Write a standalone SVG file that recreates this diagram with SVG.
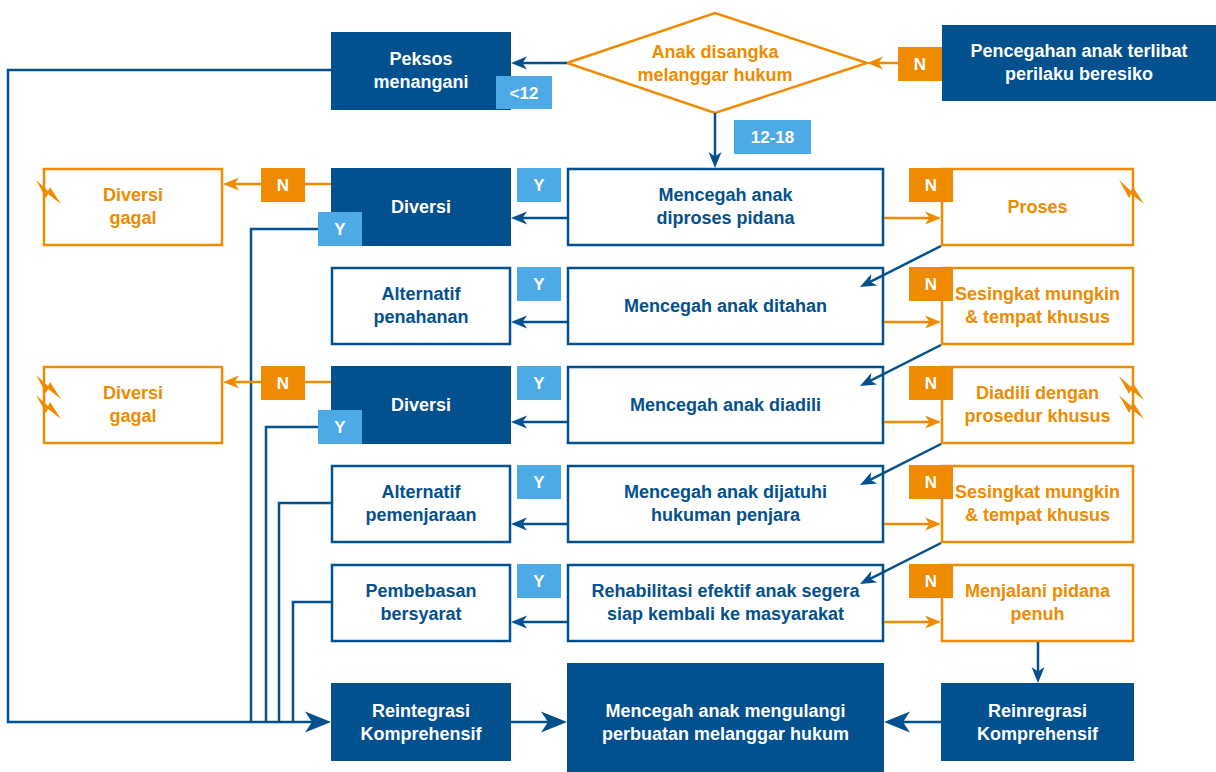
<svg xmlns="http://www.w3.org/2000/svg" xmlns:xlink="http://www.w3.org/1999/xlink" width="1216" height="772" viewBox="0 0 1216 772">
<style>
.t{font-family:"Liberation Sans",Arial,Helvetica,sans-serif;font-size:18px;font-weight:bold;text-anchor:middle}
.bt{font-family:"Liberation Sans",Arial,Helvetica,sans-serif;font-size:17px;font-weight:bold;text-anchor:middle;fill:#fff}
.w{fill:#fff}.b{fill:#03508e}.o{fill:#ee8b00}
.fb{fill:#03508e}
.ob{fill:#fff;stroke:#03508e;stroke-width:2.5}
.oo{fill:#fff;stroke:#ee8b00;stroke-width:2.5}
.by{fill:#4eaae6}.bn{fill:#ee8b00}
.cb{fill:none;stroke:#03508e;stroke-width:2.5}
.co{fill:none;stroke:#ee8b00;stroke-width:2.5}
.bolt{fill:#ee8b00}
</style>
<defs>
<marker id="ab" viewBox="-9 -8 18 16" refX="0" refY="0" markerWidth="18" markerHeight="16" markerUnits="userSpaceOnUse" orient="auto"><path d="M8,0 L-8,-6.5 L-3.5,0 L-8,6.5 Z" fill="#03508e"/></marker>
<marker id="ao" viewBox="-9 -8 18 16" refX="0" refY="0" markerWidth="18" markerHeight="16" markerUnits="userSpaceOnUse" orient="auto"><path d="M8,0 L-8,-6.5 L-3.5,0 L-8,6.5 Z" fill="#ee8b00"/></marker>
<marker id="abig" viewBox="-14 -12 28 24" refX="0" refY="0" markerWidth="28" markerHeight="24" markerUnits="userSpaceOnUse" orient="auto"><path d="M13,0 L-13,-10.5 L-6,0 L-13,10.5 Z" fill="#03508e"/></marker>
<path id="bolt" d="M0,0 L12,11 L14,7 L25,24 L12,14 L10,18 Z"/>
</defs>

<rect width="1216" height="772" fill="#fff"/>

<g id="nodes">
<g id="n-pencegahan"><rect class="fb" x="942" y="25" width="274" height="76"/><text class="t w" x="1079" y="57">Pencegahan anak terlibat</text><text class="t w" x="1079" y="80">perilaku beresiko</text></g>
<g id="n-disangka"><polygon class="oo" points="567,63 715,13 867,63 715,113"/><text class="t o" x="715" y="58">Anak disangka</text><text class="t o" x="715" y="81">melanggar hukum</text></g>
<g id="n-peksos"><rect class="fb" x="331" y="32" width="180" height="78"/><text class="t w" x="421" y="65">Peksos</text><text class="t w" x="421" y="88">menangani</text></g>

<g id="n-gagal1"><rect class="oo" x="44" y="169" width="178" height="76"/><use xlink:href="#bolt" class="bolt" x="36" y="180"/><text class="t o" x="133" y="201">Diversi</text><text class="t o" x="133" y="224">gagal</text></g>
<g id="n-diversi1"><rect class="fb" x="331" y="168" width="180" height="78"/><text class="t w" x="421" y="213">Diversi</text></g>
<g id="n-diproses"><rect class="ob" x="568" y="169" width="315" height="76"/><text class="t b" x="725.5" y="201">Mencegah anak</text><text class="t b" x="725.5" y="224">diproses pidana</text></g>
<g id="n-proses"><rect class="oo" x="942" y="169" width="191" height="76"/><use xlink:href="#bolt" class="bolt" x="1119" y="180"/><text class="t o" x="1037.5" y="213">Proses</text></g>

<g id="n-altpenahanan"><rect class="ob" x="332" y="268" width="178" height="76"/><text class="t b" x="421" y="300">Alternatif</text><text class="t b" x="421" y="323">penahanan</text></g>
<g id="n-ditahan"><rect class="ob" x="568" y="268" width="315" height="76"/><text class="t b" x="725.5" y="312">Mencegah anak ditahan</text></g>
<g id="n-sesingkat1"><rect class="oo" x="942" y="268" width="191" height="76"/><text class="t o" x="1037.5" y="300">Sesingkat mungkin</text><text class="t o" x="1037.5" y="323">&amp; tempat khusus</text></g>

<g id="n-gagal2"><rect class="oo" x="44" y="367" width="178" height="76"/><use xlink:href="#bolt" class="bolt" x="36" y="375"/><use xlink:href="#bolt" class="bolt" x="36" y="395"/><text class="t o" x="133" y="399">Diversi</text><text class="t o" x="133" y="422">gagal</text></g>
<g id="n-diversi2"><rect class="fb" x="331" y="366" width="180" height="78"/><text class="t w" x="421" y="411">Diversi</text></g>
<g id="n-diadili"><rect class="ob" x="568" y="367" width="315" height="76"/><text class="t b" x="725.5" y="411">Mencegah anak diadili</text></g>
<g id="n-prosedur"><rect class="oo" x="942" y="367" width="191" height="76"/><use xlink:href="#bolt" class="bolt" x="1119" y="376"/><use xlink:href="#bolt" class="bolt" x="1119" y="395"/><text class="t o" x="1037.5" y="399">Diadili dengan</text><text class="t o" x="1037.5" y="422">prosedur khusus</text></g>

<g id="n-altpenjara"><rect class="ob" x="332" y="466" width="178" height="76"/><text class="t b" x="421" y="498">Alternatif</text><text class="t b" x="421" y="521">pemenjaraan</text></g>
<g id="n-dijatuhi"><rect class="ob" x="568" y="466" width="315" height="76"/><text class="t b" x="725.5" y="498">Mencegah anak dijatuhi</text><text class="t b" x="725.5" y="521">hukuman penjara</text></g>
<g id="n-sesingkat2"><rect class="oo" x="942" y="466" width="191" height="76"/><text class="t o" x="1037.5" y="498">Sesingkat mungkin</text><text class="t o" x="1037.5" y="521">&amp; tempat khusus</text></g>

<g id="n-pembebasan"><rect class="ob" x="332" y="565" width="178" height="76"/><text class="t b" x="421" y="597">Pembebasan</text><text class="t b" x="421" y="620">bersyarat</text></g>
<g id="n-rehabilitasi"><rect class="ob" x="568" y="565" width="315" height="76"/><text class="t b" x="725.5" y="597">Rehabilitasi efektif anak segera</text><text class="t b" x="725.5" y="620">siap kembali ke masyarakat</text></g>
<g id="n-menjalani"><rect class="oo" x="942" y="565" width="191" height="76"/><text class="t o" x="1037.5" y="597">Menjalani pidana</text><text class="t o" x="1037.5" y="620">penuh</text></g>

<g id="n-reintegrasi"><rect class="fb" x="331" y="683" width="180" height="78"/><text class="t w" x="421" y="717">Reintegrasi</text><text class="t w" x="421" y="740">Komprehensif</text></g>
<g id="n-mengulangi"><rect class="fb" x="567" y="663" width="317" height="109"/><text class="t w" x="725.5" y="717">Mencegah anak mengulangi</text><text class="t w" x="725.5" y="740">perbuatan melanggar hukum</text></g>
<g id="n-reinregrasi"><rect class="fb" x="941" y="683" width="193" height="78"/><text class="t w" x="1037.5" y="717">Reinregrasi</text><text class="t w" x="1037.5" y="740">Komprehensif</text></g>
</g>

<g id="connectors">
<path class="co" d="M942,63 H875" marker-end="url(#ao)"/>
<path class="cb" d="M567,63 H519" marker-end="url(#ab)"/>
<path class="cb" d="M715,113 V160" marker-end="url(#ab)"/>
<path class="cb" d="M331,70 H8 V722 H318" marker-end="url(#abig)"/>

<path class="cb" d="M567,218 H519" marker-end="url(#ab)"/>
<path class="co" d="M331,184 H231" marker-end="url(#ao)"/>
<path class="co" d="M884,218 H933" marker-end="url(#ao)"/>
<path class="cb" d="M318,229 H251 V722"/>
<path class="cb" d="M941,246 L867.1,283.4" marker-end="url(#ab)"/>

<path class="cb" d="M567,322 H519" marker-end="url(#ab)"/>
<path class="co" d="M884,322 H933" marker-end="url(#ao)"/>
<path class="cb" d="M941,345 L867.1,382.4" marker-end="url(#ab)"/>

<path class="cb" d="M567,422 H519" marker-end="url(#ab)"/>
<path class="co" d="M331,382 H231" marker-end="url(#ao)"/>
<path class="co" d="M884,422 H933" marker-end="url(#ao)"/>
<path class="cb" d="M318,427 H266 V722"/>
<path class="cb" d="M941,444 L867.1,481.4" marker-end="url(#ab)"/>

<path class="cb" d="M567,524 H519" marker-end="url(#ab)"/>
<path class="co" d="M884,524 H933" marker-end="url(#ao)"/>
<path class="cb" d="M331,503 H279 V722"/>
<path class="cb" d="M941,543 L867.1,580.4" marker-end="url(#ab)"/>

<path class="cb" d="M567,622 H519" marker-end="url(#ab)"/>
<path class="co" d="M884,622 H933" marker-end="url(#ao)"/>
<path class="cb" d="M331,602 H293 V722"/>

<path class="cb" d="M1038,642 V675" marker-end="url(#ab)"/>
<path class="cb" d="M511,722 H554" marker-end="url(#abig)"/>
<path class="cb" d="M941,722 H897" marker-end="url(#abig)"/>
</g>

<g id="labels">
<rect class="bn" x="898" y="47" width="44" height="34"/><text class="bt" x="920" y="70">N</text>
<rect class="by" x="496" y="76" width="56" height="33"/><text class="bt" x="524" y="99">&lt;12</text>
<rect class="by" x="734" y="120" width="77" height="34"/><text class="bt" x="772.5" y="143">12-18</text>

<rect class="bn" x="261" y="168" width="44" height="34"/><text class="bt" x="283" y="191">N</text>
<rect class="by" x="517" y="168" width="44" height="34"/><text class="bt" x="539" y="191">Y</text>
<rect class="by" x="318" y="212" width="44" height="34"/><text class="bt" x="340" y="235">Y</text>
<rect class="bn" x="909" y="168" width="44" height="34"/><text class="bt" x="931" y="191">N</text>

<rect class="by" x="517" y="267" width="44" height="34"/><text class="bt" x="539" y="290">Y</text>
<rect class="bn" x="909" y="267" width="44" height="34"/><text class="bt" x="931" y="290">N</text>

<rect class="bn" x="261" y="366" width="44" height="34"/><text class="bt" x="283" y="389">N</text>
<rect class="by" x="517" y="366" width="44" height="34"/><text class="bt" x="539" y="389">Y</text>
<rect class="by" x="318" y="410" width="44" height="34"/><text class="bt" x="340" y="433">Y</text>
<rect class="bn" x="909" y="366" width="44" height="34"/><text class="bt" x="931" y="389">N</text>

<rect class="by" x="517" y="465" width="44" height="34"/><text class="bt" x="539" y="488">Y</text>
<rect class="bn" x="909" y="465" width="44" height="34"/><text class="bt" x="931" y="488">N</text>

<rect class="by" x="517" y="564" width="44" height="34"/><text class="bt" x="539" y="587">Y</text>
<rect class="bn" x="909" y="564" width="44" height="34"/><text class="bt" x="931" y="587">N</text>
</g>
</svg>
